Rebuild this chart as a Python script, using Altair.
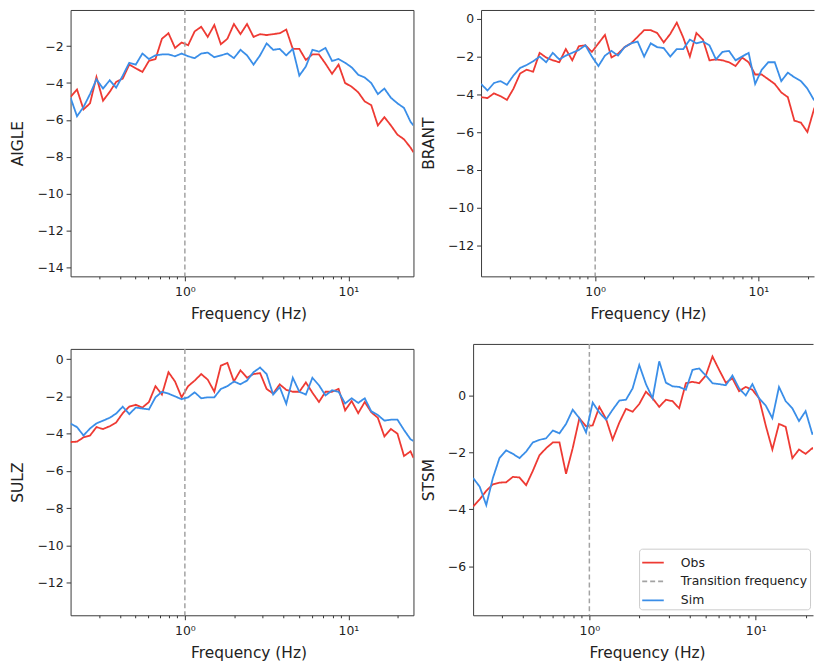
import altair as alt
import pandas as pd

# Frequencies (Hz), shared by all stations
freq = [0.200, 0.219, 0.240, 0.263, 0.288, 0.316, 0.347, 0.380, 0.417, 0.457,
        0.501, 0.550, 0.603, 0.661, 0.724, 0.794, 0.871, 0.955, 1.047, 1.148,
        1.259, 1.380, 1.514, 1.660, 1.820, 1.995, 2.188, 2.399, 2.630, 2.884,
        3.162, 3.467, 3.802, 4.169, 4.571, 5.012, 5.495, 6.026, 6.607, 7.244,
        7.943, 8.710, 9.550, 10.47, 11.48, 12.59, 13.80, 15.14, 16.60, 18.20,
        19.95, 21.88, 23.99, 25.0]

aigle_obs = [-4.75, -4.35, -5.43, -5.1, -3.67, -4.96, -4.48, -3.94, -3.76, -3.0,
             -3.2, -3.4, -2.8, -2.7, -1.6, -1.3, -2.1, -1.8, -1.95, -1.2,
             -0.95, -1.5, -0.85, -1.9, -1.6, -0.8, -1.35, -0.8, -1.5, -1.35,
             -1.4, -1.35, -1.3, -1.1, -2.15, -2.15, -2.75, -2.45, -2.45, -2.95,
             -3.5, -3.0, -4.0, -4.2, -4.5, -5.0, -5.2, -6.3, -5.85, -6.3,
             -6.8, -7.05, -7.5, -7.75]
aigle_sim = [-4.8, -5.8, -5.3, -4.6, -3.8, -4.3, -3.85, -4.25, -3.6, -2.9,
             -3.0, -2.4, -2.7, -2.5, -2.45, -2.45, -2.55, -2.4, -2.55, -2.65,
             -2.4, -2.35, -2.6, -2.5, -2.4, -2.65, -2.2, -2.5, -3.0, -2.5,
             -1.85, -2.2, -2.15, -2.5, -2.15, -3.6, -3.1, -2.2, -2.3, -2.1,
             -2.8, -2.7, -2.9, -3.15, -3.55, -3.7, -4.0, -4.6, -4.3, -4.8,
             -5.1, -5.35, -6.1, -6.3]

brant_obs = [-4.15, -4.2, -3.95, -4.1, -4.3, -3.7, -2.9, -2.7, -2.8, -1.8,
             -2.05, -2.2, -2.3, -1.6, -2.2, -1.45, -1.4, -1.75, -1.3, -0.85,
             -2.05, -1.85, -1.5, -1.3, -0.95, -0.6, -0.6, -0.75, -1.25, -0.8,
             -0.2, -1.0, -2.0, -0.75, -1.1, -2.2, -2.15, -2.2, -2.3, -2.5,
             -2.05, -2.3, -2.95, -2.95, -3.2, -3.45, -3.9, -4.15, -5.4, -5.5,
             -6.0, -4.8, -5.3, -5.5]
brant_sim = [-3.45, -3.8, -3.4, -3.3, -3.5, -3.0, -2.6, -2.45, -2.25, -2.0,
             -2.3, -1.8, -2.15, -1.95, -1.8, -1.65, -1.4, -2.0, -2.5, -1.95,
             -1.7, -1.95, -1.5, -1.3, -1.2, -2.0, -1.3, -1.5, -1.55, -2.0,
             -1.6, -1.6, -1.1, -1.3, -1.2, -1.4, -2.15, -1.75, -1.7, -2.2,
             -2.0, -1.8, -3.45, -2.7, -2.3, -2.3, -3.3, -2.85, -3.1, -3.3,
             -3.7, -4.3, -4.5, -4.6]

sulz_obs = [-4.45, -4.43, -4.2, -4.1, -3.65, -3.75, -3.6, -3.4, -2.9, -2.55,
            -2.45, -2.6, -2.3, -1.45, -1.9, -0.7, -1.2, -2.05, -1.45, -1.15,
            -0.8, -1.1, -1.75, -0.35, -0.2, -1.2, -0.6, -1.0, -0.8, -0.75,
            -1.6, -1.85, -1.35, -1.65, -1.75, -1.75, -1.25, -1.8, -2.3, -1.75,
            -1.75, -1.6, -2.75, -2.25, -2.9, -2.3, -2.85, -3.15, -4.15, -3.75,
            -4.0, -5.2, -4.95, -5.3]
sulz_sim = [-3.45, -3.65, -4.1, -3.72, -3.45, -3.3, -3.15, -2.92, -2.55, -2.95,
            -2.6, -2.65, -2.7, -2.05, -1.75, -1.85, -2.0, -2.15, -2.05, -1.78,
            -2.1, -2.05, -2.05, -1.6, -1.45, -1.2, -1.35, -1.15, -0.7, -0.45,
            -0.8, -1.9, -1.5, -2.4, -1.0, -1.75, -1.9, -1.0, -1.4, -1.95,
            -1.67, -1.75, -2.38, -2.1, -2.35, -2.1, -2.8, -3.0, -3.3, -3.25,
            -3.25, -3.8, -4.3, -4.4]

stsm_obs = [-3.9, -3.65, -3.35, -3.12, -3.06, -3.05, -2.86, -2.88, -3.15, -2.65,
            -2.1, -1.85, -1.65, -1.65, -2.75, -1.85, -0.8, -1.08, -1.05, -0.4,
            -0.82, -1.55, -0.95, -0.47, -0.57, -0.3, 0.13, -0.1, -0.4, -0.15,
            -0.2, -0.45, 0.43, 0.48, 0.43, 0.7, 1.37, 0.9, 0.45, 0.6,
            0.15, 0.3, 0.2, -0.1, -1.05, -1.9, -1.0, -1.1, -2.2, -1.9,
            -2.05, -1.85, -2.0, -2.1]
stsm_sim = [-2.9, -3.2, -3.85, -2.9, -2.2, -1.93, -2.05, -2.2, -1.97, -1.65,
            -1.56, -1.5, -1.23, -1.33, -1.0, -0.5, -0.8, -1.3, -0.25, -0.6,
            -0.85, -0.5, -0.18, -0.15, 0.25, 1.07, 0.4, -0.1, 1.2, 0.45,
            0.32, 0.3, 0.2, 0.9, 0.95, 0.7, 0.43, 0.4, 0.36, 0.7,
            0.25, 0.0, 0.4, -0.1, -0.35, -0.8, 0.3, -0.2, -0.45, -0.9,
            -0.55, -1.35, -1.3, -1.4]

transition_freq = [1.0]
series_names = ["Obs", "Transition frequency", "Sim"]
series_colors = ["#ee3a33", "#a3a3a3", "#3a8ee8"]
series_dashes = [[1, 0], [5, 3], [1, 0]]
x_ticks = [0.3, 0.4, 0.5, 0.6, 0.7, 0.8, 0.9, 1, 2, 3, 4, 5, 6, 7, 8, 9, 10, 20]

FONT = "DejaVu Sans"
FRAME = "#3a3a3a"

legend = alt.Legend(
    orient="none", legendX=572, legendY=542, title=None,
    symbolType="stroke", symbolSize=470, symbolStrokeWidth=1.8,
    labelFontSize=12.5, labelFont=FONT, labelColor="#222222", labelOffset=16,
    rowPadding=0, padding=2, fillColor="rgba(255,255,255,0.85)",
    strokeColor="#cccccc", cornerRadius=3,
)


def panel(name, obs, sim, ydom, yvals, w, h, title_x, xmax=25, cropped=False):
    n = len(freq)
    df_obs = pd.DataFrame({"freq": freq, "value": obs, "series": ["Obs"] * n})
    df_sim = pd.DataFrame({"freq": freq, "value": sim, "series": ["Sim"] * n})
    df_tr = pd.DataFrame({"freq": transition_freq, "series": ["Transition frequency"]})

    xscale = alt.Scale(type="log", domain=[0.2, xmax], nice=False)
    xaxis = alt.Axis(
        values=x_ticks, grid=False, domain=cropped, domainColor=FRAME, domainWidth=1,
        labelExpr="datum.value == 1 ? '10⁰' : (datum.value == 10 ? '10¹' : '')",
        tickSize={"condition": {"test": "datum.value == 1 || datum.value == 10", "value": 4.5},
                  "value": 2.5},
        title="Frequency (Hz)", labelPadding=5, titlePadding=8, titleX=title_x,
    )
    yscale = alt.Scale(domain=ydom, nice=False, zero=False)
    yaxis = alt.Axis(values=yvals, title=name, grid=False, domain=cropped,
                     domainColor=FRAME, domainWidth=1,
                     tickSize=4.5, labelPadding=3, titlePadding=11)
    color = alt.Color("series:N", scale=alt.Scale(domain=series_names, range=series_colors),
                      legend=legend)
    dash = alt.StrokeDash("series:N", scale=alt.Scale(domain=series_names, range=series_dashes),
                          legend=legend)

    y = alt.Y("value:Q", scale=yscale, axis=yaxis)
    l_obs = alt.Chart(df_obs).mark_line(strokeWidth=1.8, clip=True).encode(
        x=alt.X("freq:Q", scale=xscale, axis=xaxis), y=y, color=color, strokeDash=dash)
    if cropped:
        # panel runs off the right edge of the figure: left, bottom and top edges only
        top_axis = alt.Axis(orient="top", labels=False, ticks=False, title=None,
                            grid=False, domain=True, domainColor=FRAME, domainWidth=1)
        l_sim = alt.Chart(df_sim).mark_line(strokeWidth=1.8, clip=True).encode(
            x=alt.X("freq:Q", scale=xscale, axis=None), y=y, color=color, strokeDash=dash)
        rule = alt.Chart(df_tr).mark_rule(strokeWidth=1.5).encode(
            x=alt.X("freq:Q", scale=xscale, axis=top_axis), color=color, strokeDash=dash)
        out = alt.layer(l_obs, rule, l_sim).resolve_axis(x="independent").properties(
            width=w, height=h, view=alt.ViewBackground(stroke="transparent"))
    else:
        l_sim = alt.Chart(df_sim).mark_line(strokeWidth=1.8, clip=True).encode(
            x=alt.X("freq:Q", scale=xscale, axis=xaxis), y=y, color=color, strokeDash=dash)
        rule = alt.Chart(df_tr).mark_rule(strokeWidth=1.5).encode(
            x=alt.X("freq:Q", scale=xscale, axis=xaxis), color=color, strokeDash=dash)
        out = alt.layer(l_obs, rule, l_sim).properties(width=w, height=h)
    return out


tl = panel("AIGLE", aigle_obs, aigle_sim, [-14.48, -0.04], [-14, -12, -10, -8, -6, -4, -2],
           345, 268, 179)
tr = panel("BRANT", brant_obs, brant_sim, [-13.65, 0.47], [-12, -10, -8, -6, -4, -2, 0],
           335, 268, 168, xmax=21.9, cropped=True)
bl = panel("SULZ", sulz_obs, sulz_sim, [-13.75, 0.55], [-12, -10, -8, -6, -4, -2, 0],
           345, 268, 179)
br = panel("STSM", stsm_obs, stsm_sim, [-7.72, 1.81], [-6, -4, -2, 0],
           342, 273, 175, xmax=22.1, cropped=True)

# blank, transparent title only to push the SULZ frame a few pixels lower, as in the reference
bl = bl.properties(title=alt.TitleParams(text=" ", fontSize=6, color="transparent", offset=-1))

chart = alt.concat(
    tl, tr, bl, br, columns=2, align="none",
    spacing=alt.RowColnumber(row=20, column=6),
).resolve_scale(
    color="shared", strokeDash="shared"
).properties(
    padding={"left": 10, "top": 6, "right": 0, "bottom": 4}
).configure_view(
    stroke=FRAME, strokeWidth=1
).configure_axis(
    grid=False, tickColor="#333333", labelColor="#222222",
    titleColor="#222222", labelFont=FONT, titleFont=FONT, labelFontSize=12.5,
    titleFontSize=15.5, titleFontWeight="normal",
)

chart.save("out.html", embed_options={"renderer": "svg", "actions": False})
